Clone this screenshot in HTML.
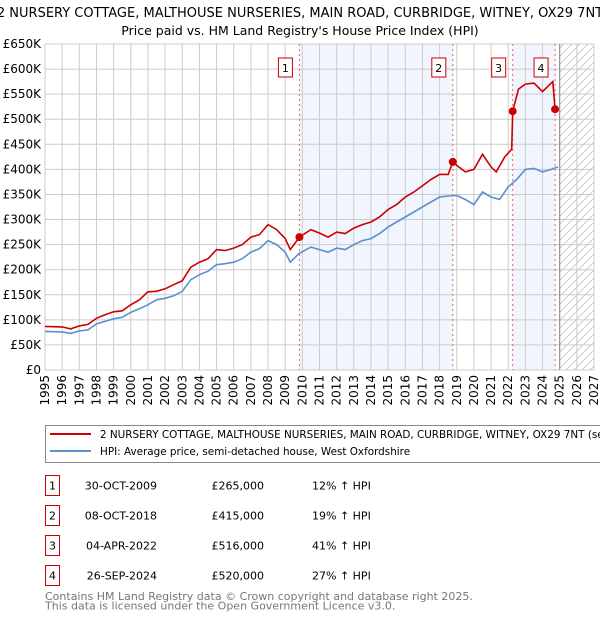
<!DOCTYPE html>
<html><head><meta charset="utf-8"><style>
body{margin:0;background:#fff;font-family:"DejaVu Sans","Liberation Sans",sans-serif;}
svg text{font-family:"DejaVu Sans","Liberation Sans",sans-serif;}
</style></head><body>
<svg id="chart" width="600" height="620" viewBox="0 0 600 620" xmlns="http://www.w3.org/2000/svg">
<defs><pattern id="hatch" patternUnits="userSpaceOnUse" width="8" height="8"><path d="M0,8 L8,0" stroke="#ccc" stroke-width="1"/></pattern>
<clipPath id="pc"><rect x="45" y="44" width="549" height="326"/></clipPath></defs>
<text x="300" y="17" text-anchor="middle" font-size="13">2 NURSERY COTTAGE, MALTHOUSE NURSERIES, MAIN ROAD, CURBRIDGE, WITNEY, OX29 7NT</text>
<text x="300" y="35" text-anchor="middle" font-size="12.5">Price paid vs. HM Land Registry's House Price Index (HPI)</text>
<g id="bg"></g><g id="grid"></g><g id="series" clip-path="url(#pc)"></g><g id="marks"></g><g id="axes"></g>
<g>
<rect x="45.5" y="425.5" width="560" height="37" fill="#fff" stroke="#888"/>
<line x1="50" y1="434" x2="91" y2="434" stroke="#cc0000" stroke-width="2"/>
<text x="100" y="438" font-size="10.4">2 NURSERY COTTAGE, MALTHOUSE NURSERIES, MAIN ROAD, CURBRIDGE, WITNEY, OX29 7NT (semi-detached house)</text>
<line x1="50" y1="451" x2="91" y2="451" stroke="#5b8fd0" stroke-width="2"/>
<text x="100" y="455" font-size="10.4">HPI: Average price, semi-detached house, West Oxfordshire</text>
</g>
<g id="table" font-size="11"></g>
<text x="45" y="600" font-size="11" fill="#777">Contains HM Land Registry data © Crown copyright and database right 2025.</text>
<text x="45" y="609.5" font-size="11" fill="#777">This data is licensed under the Open Government Licence v3.0.</text>
</svg>
<script>
const hpiYears=[1995,1996,1996.5,1997,1997.5,1998,1998.5,1999,1999.5,2000,2000.5,2001,2001.5,2002,2002.5,2003,2003.5,2004,2004.5,2005,2005.5,2006,2006.5,2007,2007.5,2008,2008.5,2009,2009.3,2009.8,2010.5,2011,2011.5,2012,2012.5,2013,2013.5,2014,2014.5,2015,2015.5,2016,2016.5,2017,2017.5,2018,2018.5,2019,2019.5,2020,2020.5,2021,2021.5,2022,2022.5,2023,2023.5,2024,2024.5,2024.9];
const hpiValues=[77,76,73,78,80,92,97,102,105,115,122,130,140,143,148,157,180,190,197,210,212,215,222,235,242,258,250,235,215,232,245,240,235,243,240,250,258,262,272,285,295,305,315,325,335,345,347,348,340,330,355,345,340,365,380,400,402,395,400,405];
const priceYears=[1995,1996,1996.5,1997,1997.5,1998,1998.5,1999,1999.5,2000,2000.5,2001,2001.5,2002,2002.5,2003,2003.5,2004,2004.5,2005,2005.5,2006,2006.5,2007,2007.5,2008,2008.5,2009,2009.3,2009.83,2010.5,2011,2011.5,2012,2012.5,2013,2013.5,2014,2014.5,2015,2015.5,2016,2016.5,2017,2017.5,2018,2018.5,2018.77,2019,2019.5,2020,2020.5,2021,2021.3,2021.8,2022.2,2022.26,2022.6,2023,2023.5,2024,2024.6,2024.73,2024.9];
const priceValues=[87,86,82,88,91,103,110,116,118,130,140,156,157,162,170,178,205,215,222,240,238,243,250,265,270,290,280,262,240,265,280,273,265,275,272,283,290,295,305,320,330,345,355,367,380,390,390,415,408,395,400,430,405,395,425,440,516,560,570,572,555,575,520,515];
const saleYears=[2009.83,2018.77,2022.26,2024.73];
const saleValues=[265,415,516,520];
const saleLabels=["1","2","3","4"];
const saleDates=["30-OCT-2009","08-OCT-2018","04-APR-2022","26-SEP-2024"];
const salePrices=["£265,000","£415,000","£516,000","£520,000"];
const saleDiffs=["12% ↑ HPI","19% ↑ HPI","41% ↑ HPI","27% ↑ HPI"];
const yTicks=[0,50,100,150,200,250,300,350,400,450,500,550,600,650];
const yTickLabels=["£0","£50K","£100K","£150K","£200K","£250K","£300K","£350K","£400K","£450K","£500K","£550K","£600K","£650K"];
const xTicks=[1995,1996,1997,1998,1999,2000,2001,2002,2003,2004,2005,2006,2007,2008,2009,2010,2011,2012,2013,2014,2015,2016,2017,2018,2019,2020,2021,2022,2023,2024,2025,2026,2027];
const dataEnd=2025.0;

const X0=45,X1=594,Y0=370,Y1=44;
const xs=v=>X0+(v-1995)/(2027-1995)*(X1-X0);
const ys=v=>Y0-v/650*(Y0-Y1);
const NS="http://www.w3.org/2000/svg";
function mk(parent,tag,attrs){const e=document.createElementNS(NS,tag);for(const k in attrs)e.setAttribute(k,attrs[k]);document.getElementById(parent).appendChild(e);return e;}

let r=mk('bg','rect',{x:X0,y:Y1,width:X1-X0,height:Y0-Y1,fill:'#fff'});


[[0,1],[2,3]].forEach(p=>{const s=mk('bg','rect',{x:xs(saleYears[p[0]]),y:Y1,width:xs(saleYears[p[1]])-xs(saleYears[p[0]]),height:Y0-Y1,fill:'#eef3fc',opacity:0.8});

});
const h=mk('bg','rect',{x:xs(dataEnd),y:Y1,width:X1-xs(dataEnd),height:Y0-Y1,fill:'url(#hatch)'});



yTicks.forEach((t,i)=>{const l=mk('grid','line',{x1:X0,x2:X1,y1:ys(t),y2:ys(t),stroke:'#ccc'});


const tx=mk('axes','text',{x:41,y:ys(t)+4,'text-anchor':'end','font-size':12});tx.textContent=yTickLabels[i];

});
xTicks.forEach(t=>{const l=mk('grid','line',{x1:xs(t),x2:xs(t),y1:Y1,y2:Y0,stroke:'#ccc'});


const tx=mk('axes','text',{x:0,y:0,'text-anchor':'end','font-size':12,transform:`translate(${xs(t)+4},${Y0+5}) rotate(-90)`});tx.textContent=t;

});
const ax=mk('grid','line',{x1:xs(dataEnd),x2:xs(dataEnd),y1:Y1,y2:Y0,stroke:'#888'});



saleYears.forEach((s,i)=>{const l=mk('grid','line',{x1:xs(s),x2:xs(s),y1:Y1,y2:Y0,stroke:'#f06060','stroke-dasharray':'2,3'});

});

const pts=(a,b)=>a.map((v,i)=>xs(v).toFixed(1)+','+ys(b[i]).toFixed(1)).join(' ');
const hp=mk('series','polyline',{points:pts(hpiYears,hpiValues),fill:'none',stroke:'#5b8fd0','stroke-width':1.6});


const pp=mk('series','polyline',{points:pts(priceYears,priceValues),fill:'none',stroke:'#cc0000','stroke-width':1.6});



saleYears.forEach((s,i)=>{const c=mk('marks','circle',{cx:xs(s),cy:ys(saleValues[i]),r:4,fill:'#cc0000'});


const b=mk('marks','rect',{x:xs(s)-21,y:58,width:14,height:19,fill:'#fff',stroke:'#cc0000'});


const t=mk('marks','text',{x:xs(s)-14,y:72,'text-anchor':'middle','font-size':11});t.textContent=saleLabels[i];

});

saleYears.forEach((s,i)=>{const y=475.5+i*30;
const b=mk('table','rect',{x:45.5,y:y,width:14,height:20,fill:'#fff',stroke:'#cc0000'});


const cols=[[52.5,saleLabels[i],'middle'],[157,saleDates[i],'end'],[264,salePrices[i],'end'],[312,saleDiffs[i],'start']];
cols.forEach(c=>{const t=mk('table','text',{x:c[0],y:y+14,'text-anchor':c[2]});t.textContent=c[1];

});});
</script>
</body></html>
